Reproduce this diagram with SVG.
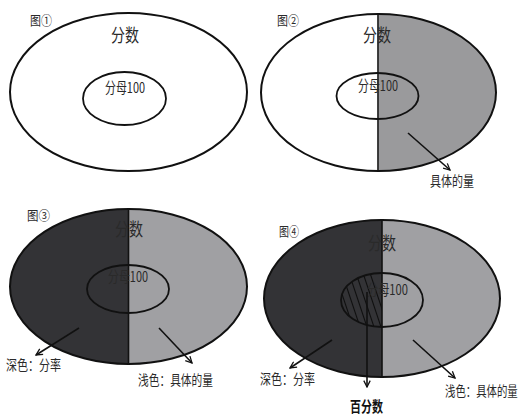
<svg xmlns="http://www.w3.org/2000/svg" width="521" height="415" viewBox="0 0 521 415">
<style>
.o{fill:none;stroke:#111;stroke-width:2}
.i{fill:none;stroke:#111;stroke-width:1.8}
.d{stroke:#111;stroke-width:1.6}
.dark{fill:#333336}
.light{fill:#a0a0a3}
.mid{fill:#9a9a9c}
text{font-family:"Noto Sans CJK SC","Noto Sans",sans-serif;fill:#2a2a2a}
.t{font-size:13px}
.big{font-size:18px}
.sm{font-size:14.5px}
.lb{font-size:14px}
.a{stroke:#111;stroke-width:1.6;fill:none;marker-end:url(#ah)}
.h{stroke:#111;stroke-width:1.1}
</style>
<defs>
<marker id="ah" viewBox="0 0 10 10" refX="9" refY="5" markerWidth="8" markerHeight="8" markerUnits="userSpaceOnUse" orient="auto">
<path d="M1,1 L9,5 L1,9" fill="none" stroke="#111" stroke-width="1.6"/>
</marker>
<clipPath id="hc"><path d="M382,273 A41,27 0 0 0 382,327 Z"/></clipPath>
</defs>
<g id="fig1">
<ellipse class="o" cx="128.5" cy="92" rx="118.5" ry="79"/>
<ellipse class="i" cx="124.5" cy="98.5" rx="41.5" ry="26.5"/>
<text class="t" x="30" y="25" textLength="22" lengthAdjust="spacingAndGlyphs">图①</text>
<text class="big" x="111" y="42" textLength="28" lengthAdjust="spacingAndGlyphs">分数</text>
<text class="sm" x="105" y="93" textLength="40" lengthAdjust="spacingAndGlyphs">分母100</text>
</g>
<g id="fig2">
<path class="mid" d="M378.5,14 A117.5,78.5 0 0 1 378.5,171 Z"/>
<ellipse class="o" cx="378.5" cy="92.5" rx="117.5" ry="78.5"/>
<line class="d" x1="378" y1="14" x2="378" y2="171"/>
<ellipse class="i" cx="377.5" cy="96" rx="41" ry="23"/>
<text class="t" x="277" y="25" textLength="22" lengthAdjust="spacingAndGlyphs">图②</text>
<text class="big" x="363" y="42" textLength="28" lengthAdjust="spacingAndGlyphs">分数</text>
<text class="sm" x="358" y="91" textLength="40" lengthAdjust="spacingAndGlyphs">分母100</text>
<text class="lb" x="430" y="186" textLength="44" lengthAdjust="spacingAndGlyphs">具体的量</text>
</g>
<g id="fig3">
<path class="dark" d="M128.5,209 A118.5,77.5 0 0 0 128.5,364 Z"/>
<path class="light" d="M128.5,209 A118.5,77.5 0 0 1 128.5,364 Z"/>
<ellipse class="o" cx="128.5" cy="286.5" rx="118.5" ry="77.5"/>
<line class="d" x1="128.5" y1="209" x2="128.5" y2="364"/>
<ellipse class="i" cx="128" cy="289" rx="41" ry="24"/>
<text class="t" x="27" y="220" textLength="23" lengthAdjust="spacingAndGlyphs">图③</text>
<text class="big" x="115" y="236" textLength="28" lengthAdjust="spacingAndGlyphs">分数</text>
<text class="sm" x="108" y="282" textLength="40" lengthAdjust="spacingAndGlyphs">分母100</text>
<text class="lb" x="6" y="370" textLength="55" lengthAdjust="spacingAndGlyphs">深色：分率</text>
<text class="lb" x="138" y="385" textLength="75" lengthAdjust="spacingAndGlyphs">浅色：具体的量</text>
</g>
<g id="fig4">
<path class="dark" d="M382,220 A118,78.5 0 0 0 382,377 Z"/>
<path class="light" d="M382,220 A118,78.5 0 0 1 382,377 Z"/>
<ellipse class="o" cx="382" cy="298.5" rx="118" ry="78.5"/>
<line class="d" x1="382" y1="220" x2="382" y2="377"/>
<g clip-path="url(#hc)">
<line class="h" x1="320" y1="270" x2="340" y2="330"/>
<line class="h" x1="327" y1="270" x2="347" y2="330"/>
<line class="h" x1="334" y1="270" x2="354" y2="330"/>
<line class="h" x1="341" y1="270" x2="361" y2="330"/>
<line class="h" x1="348" y1="270" x2="368" y2="330"/>
<line class="h" x1="355" y1="270" x2="375" y2="330"/>
<line class="h" x1="362" y1="270" x2="382" y2="330"/>
<line class="h" x1="369" y1="270" x2="389" y2="330"/>
</g>
<ellipse class="i" cx="382" cy="300" rx="41" ry="27"/>
<text class="t" x="279" y="236" textLength="20" lengthAdjust="spacingAndGlyphs">图④</text>
<text class="big" x="368" y="250" textLength="28" lengthAdjust="spacingAndGlyphs">分数</text>
<text class="sm" x="367" y="295" textLength="41" lengthAdjust="spacingAndGlyphs">分母100</text>
<text class="lb" x="260" y="384" textLength="55" lengthAdjust="spacingAndGlyphs">深色：分率</text>
<text x="0" y="0" transform="translate(445,396) scale(1,1.3)" style="font-size:10.4px">浅色：具体的量</text>
<text x="350" y="412" textLength="33" lengthAdjust="spacingAndGlyphs" style="font-size:14.5px;font-weight:bold;fill:#111">百分数</text>
</g>
<g id="connectors">
<line class="a" x1="408" y1="133" x2="450" y2="170"/>
<line class="a" x1="79" y1="328" x2="36" y2="355"/>
<line class="a" x1="159" y1="328" x2="192" y2="363"/>
<line class="a" x1="332" y1="340" x2="290" y2="368"/>
<line class="a" x1="413" y1="340" x2="455" y2="378"/>
<line class="a" x1="367" y1="292" x2="367" y2="387"/>
</g>
</svg>
